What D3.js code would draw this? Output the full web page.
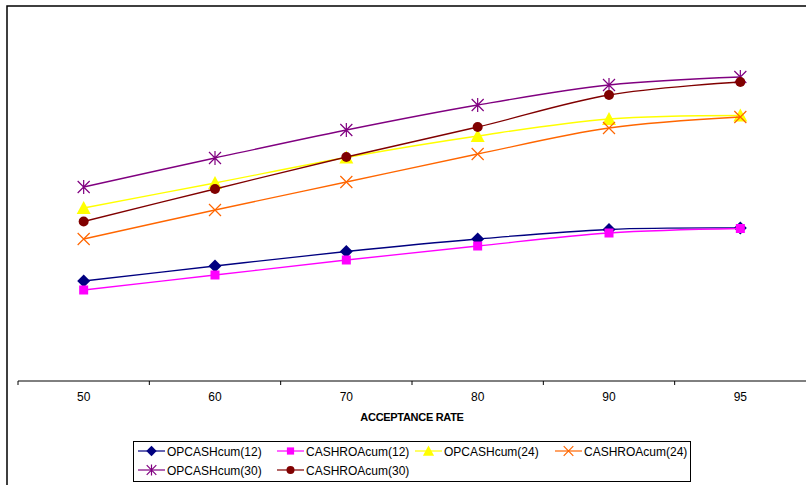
<!DOCTYPE html>
<html>
<head>
<meta charset="utf-8">
<script src="https://cdn.jsdelivr.net/npm/d3@7"></script>
<style>
  html, body { margin: 0; padding: 0; background: #fff; }
  svg { display: block; font-family: "Liberation Sans", Arial, sans-serif; }
</style>
</head>
<body>
<svg id="chart" width="806" height="485"></svg>
<script>
// Acceptance-rate categories along the x axis
const categories = ["50", "60", "70", "80", "90", "95"];

// Cumulative series values per acceptance rate
const opcash12  = [4.00, 4.60, 5.18, 5.68, 6.06, 6.12];
const cashroa12 = [3.64, 4.24, 4.84, 5.40, 5.92, 6.10];
const opcash24  = [6.92, 7.92, 8.94, 9.80, 10.48, 10.62];
const cashroa24 = [5.68, 6.84, 7.96, 9.08, 10.12, 10.56];
const opcash30  = [7.76, 8.92, 10.04, 11.04, 11.84, 12.16];
const cashroa30 = [6.38, 7.68, 8.96, 10.16, 11.44, 11.96];

const seriesNames = ["OPCASHcum(12)", "CASHROAcum(12)", "OPCASHcum(24)", "CASHROAcum(24)", "OPCASHcum(30)", "CASHROAcum(30)"];
const seriesValues = [opcash12, cashroa12, opcash24, cashroa24, opcash30, cashroa30];

const xTitle = "ACCEPTANCE RATE";

const styles = [
  { line: "#000080", fill: "#000080", marker: "diamond" },
  { line: "#FF00FF", fill: "#FF00FF", marker: "square" },
  { line: "#FFFF00", fill: "#FFFF00", marker: "triangle" },
  { line: "#FF6600", fill: "#FF6600", marker: "x" },
  { line: "#800080", fill: "#800080", marker: "star" },
  { line: "#800000", fill: "#800000", marker: "circle" }
];

const svg = d3.select("#chart");

// Outer chart frame (runs off the right and bottom edges)
svg.append("rect")
  .attr("x", 7).attr("y", 6)
  .attr("width", 820).attr("height", 500)
  .attr("fill", "none").attr("stroke", "#000").attr("stroke-width", 1.5);

const plot = { left: 18, right: 806, top: 6, bottom: 381 };

const x = d3.scaleBand().domain(categories).range([plot.left, plot.right]).padding(0);
const y = d3.scaleLinear().domain([0, 15]).range([plot.bottom, plot.top]);

// Category axis: ticks sit on band boundaries, labels at band centers
const axisG = svg.append("g").attr("transform", `translate(0,${plot.bottom})`);
axisG.append("line")
  .attr("x1", plot.left).attr("x2", plot.right)
  .attr("stroke", "#000").attr("stroke-width", 1);
const boundaries = d3.range(categories.length).map(i => x(categories[i]));
axisG.selectAll("line.tick").data(boundaries).join("line")
  .attr("class", "tick")
  .attr("x1", d => d).attr("x2", d => d)
  .attr("y1", 0).attr("y2", 4)
  .attr("stroke", "#000");
axisG.selectAll("text").data(categories).join("text")
  .attr("x", d => x(d) + x.bandwidth() / 2)
  .attr("y", 20)
  .attr("text-anchor", "middle")
  .attr("font-size", 12)
  .attr("fill", "#000")
  .text(d => d);

svg.append("text")
  .attr("x", 412).attr("y", 421)
  .attr("text-anchor", "middle")
  .attr("font-size", 11).attr("font-weight", "bold")
  .attr("letter-spacing", -0.3)
  .text(xTitle);

// Marker drawing
function drawMarker(g, type, cx, cy, st, scale = 1) {
  const s = scale;
  switch (type) {
    case "diamond":
      g.append("path")
        .attr("d", `M${cx},${cy - 6.5 * s}L${cx + 6.5 * s},${cy}L${cx},${cy + 6.5 * s}L${cx - 6.5 * s},${cy}Z`)
        .attr("fill", st.fill);
      break;
    case "square":
      g.append("rect")
        .attr("x", cx - 4.5 * s).attr("y", cy - 4.5 * s)
        .attr("width", 9 * s).attr("height", 9 * s)
        .attr("fill", st.fill);
      break;
    case "triangle":
      g.append("path")
        .attr("d", `M${cx},${cy - 7 * s}L${cx + 7 * s},${cy + 6 * s}L${cx - 7 * s},${cy + 6 * s}Z`)
        .attr("fill", st.fill);
      break;
    case "circle":
      g.append("circle").attr("cx", cx).attr("cy", cy).attr("r", 5 * s).attr("fill", st.fill);
      break;
    case "x":
      g.append("path")
        .attr("d", `M${cx - 6 * s},${cy - 6 * s}L${cx + 6 * s},${cy + 6 * s}M${cx - 6 * s},${cy + 6 * s}L${cx + 6 * s},${cy - 6 * s}`)
        .attr("stroke", st.fill).attr("stroke-width", 1.2).attr("fill", "none");
      break;
    case "star":
      g.append("path")
        .attr("d", `M${cx - 6 * s},${cy - 6 * s}L${cx + 6 * s},${cy + 6 * s}M${cx - 6 * s},${cy + 6 * s}L${cx + 6 * s},${cy - 6 * s}M${cx},${cy - 7 * s}L${cx},${cy + 7 * s}`)
        .attr("stroke", st.fill).attr("stroke-width", 1.2).attr("fill", "none");
      break;
  }
}

const line = d3.line()
  .x((d, i) => x(categories[i]) + x.bandwidth() / 2)
  .y(d => y(d))
  .curve(d3.curveCatmullRom.alpha(0));

const seriesG = svg.append("g");
seriesValues.forEach((vals, si) => {
  const st = styles[si];
  const g = seriesG.append("g");
  g.append("path")
    .attr("d", line(vals))
    .attr("fill", "none")
    .attr("stroke", st.line)
    .attr("stroke-width", 1.3);
  vals.forEach((v, i) => {
    drawMarker(g, st.marker, x(categories[i]) + x.bandwidth() / 2, y(v), st);
  });
});

// Legend
const legend = svg.append("g");
legend.append("rect")
  .attr("x", 133.5).attr("y", 441.5)
  .attr("width", 557).attr("height", 40)
  .attr("fill", "#fff").attr("stroke", "#000").attr("stroke-width", 1);

const colX = [138, 277, 415, 555];
const rowY = [451, 470];
seriesNames.forEach((name, i) => {
  const col = i % 4, row = Math.floor(i / 4);
  const lx = colX[col], ly = rowY[row];
  const st = styles[i];
  const eg = legend.append("g");
  eg.append("line")
    .attr("x1", lx).attr("x2", lx + 27)
    .attr("y1", ly).attr("y2", ly)
    .attr("stroke", st.line).attr("stroke-width", 1.2);
  drawMarker(eg, st.marker, lx + 13.5, ly, st, 0.8);
  eg.append("text")
    .attr("x", lx + 29).attr("y", ly + 4.5)
    .attr("font-size", 12)
    .attr("fill", "#000")
    .text(name);
});
</script>
</body>
</html>
